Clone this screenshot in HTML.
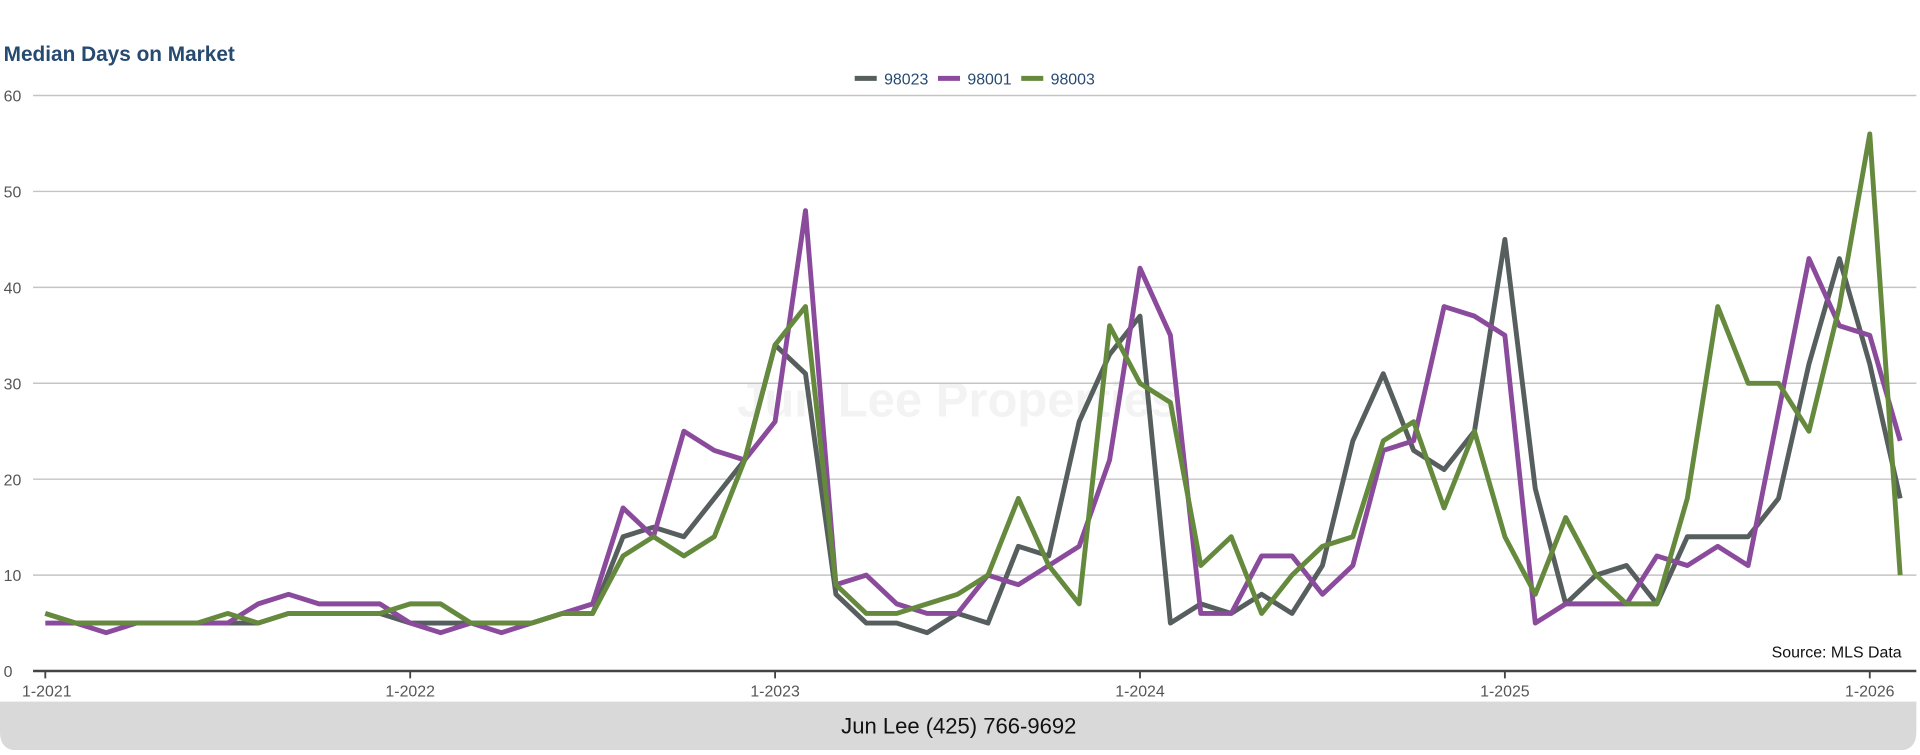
<!DOCTYPE html>
<html><head><meta charset="utf-8"><style>
body{margin:0;background:#fff;width:1920px;height:750px;overflow:hidden;font-family:"Liberation Sans",sans-serif}
</style></head><body>
<svg width="1920" height="750" id="c">
<g transform="scale(1.22449)">
<text x="3" y="50" font-size="17" font-weight="bold" fill="#264a70">Median Days on Market</text>
<text x="782" y="340" font-size="40" font-weight="bold" fill="#f3f3f3" text-anchor="middle">Jun Lee Properties</text>
<g id="grid"></g><g id="lines"></g><g id="xaxis"></g>
<g>
<line x1="698" y1="64" x2="716" y2="64" stroke="#565e5e" stroke-width="4"/><text x="722" y="69" font-size="13" fill="#264a70">98023</text>
<line x1="766" y1="64" x2="784" y2="64" stroke="#8b4b9c" stroke-width="4"/><text x="790" y="69" font-size="13" fill="#264a70">98001</text>
<line x1="834" y1="64" x2="852" y2="64" stroke="#658a3e" stroke-width="4"/><text x="858" y="69" font-size="13" fill="#264a70">98003</text>
</g>
<text x="1553" y="537" font-size="13" fill="#111" text-anchor="end">Source: MLS Data</text>
<path d="M0 573 H1565 V598 Q1565 613 1550 613 H15 Q0 613 0 598 Z" fill="#d9d9d9"/>
<text x="783" y="599" font-size="18" fill="#111" text-anchor="middle">Jun Lee (425) 766-9692</text>
</g>
</svg>
<script>
const s98023=[6,5,5,5,5,5,5,5,6,6,6,6,5,5,5,5,5,6,6,14,15,14,18,22,34,31,8,5,5,4,6,5,13,12,26,33,37,5,7,6,8,6,11,24,31,23,21,25,45,19,7,10,11,7,14,14,14,18,32,43,32,18];
const s98001=[5,5,4,5,5,5,5,7,8,7,7,7,5,4,5,4,5,6,7,17,14,25,23,22,26,48,9,10,7,6,6,10,9,11,13,22,42,35,6,6,12,12,8,11,23,24,38,37,35,5,7,7,7,12,11,13,11,27,43,36,35,24];
const s98003=[6,5,5,5,5,5,6,5,6,6,6,6,7,7,5,5,5,6,6,12,14,12,14,22,34,38,9,6,6,7,8,10,18,11,7,36,30,28,11,14,6,10,13,14,24,26,17,25,14,8,16,10,7,7,18,38,30,30,25,38,56,10];
const yTicks=[0,10,20,30,40,50,60];
const xTickLabels=["1-2021","1-2022","1-2023","1-2024","1-2025","1-2026"];
const NS="http://www.w3.org/2000/svg";
const X=i=>37+i*24.833, Y=v=>548-v*7.833;
const grid=document.getElementById('grid'),lines=document.getElementById('lines'),xa=document.getElementById('xaxis');
function mk(t,a,p){const e=document.createElementNS(NS,t);for(const k in a)e.setAttribute(k,a[k]);p.appendChild(e);return e;}
yTicks.forEach(v=>{
 const l=mk('line',{x1:27,x2:1565,y1:Y(v),y2:Y(v),stroke:v?'#c4c4c4':'#444','stroke-width':v?1.2:2},grid);
 
 
 const t=mk('text',{x:3,y:Y(v)+5,'font-size':13,fill:'#555'},grid);t.textContent=v;
 
 
});
xTickLabels.forEach((lab,k)=>{
 const x=X(k*12);
 mk('line',{x1:x,x2:x,y1:548,y2:554,stroke:'#444','stroke-width':1.5},xa);
 const t=mk('text',{x:k==0?18:x,y:569,'font-size':13,fill:'#555','text-anchor':k==0?'start':'middle'},xa);t.textContent=lab;
 
 
});
[[s98023,'#565e5e','series-98023'],[s98001,'#8b4b9c','series-98001'],[s98003,'#658a3e','series-98003']].forEach(([d,c,n])=>{
 const p=mk('polyline',{points:d.map((v,i)=>X(i)+','+Y(v)).join(' '),fill:'none',stroke:c,'stroke-width':4,'stroke-linejoin':'round'},lines);
 
 
});
</script>
</body></html>
